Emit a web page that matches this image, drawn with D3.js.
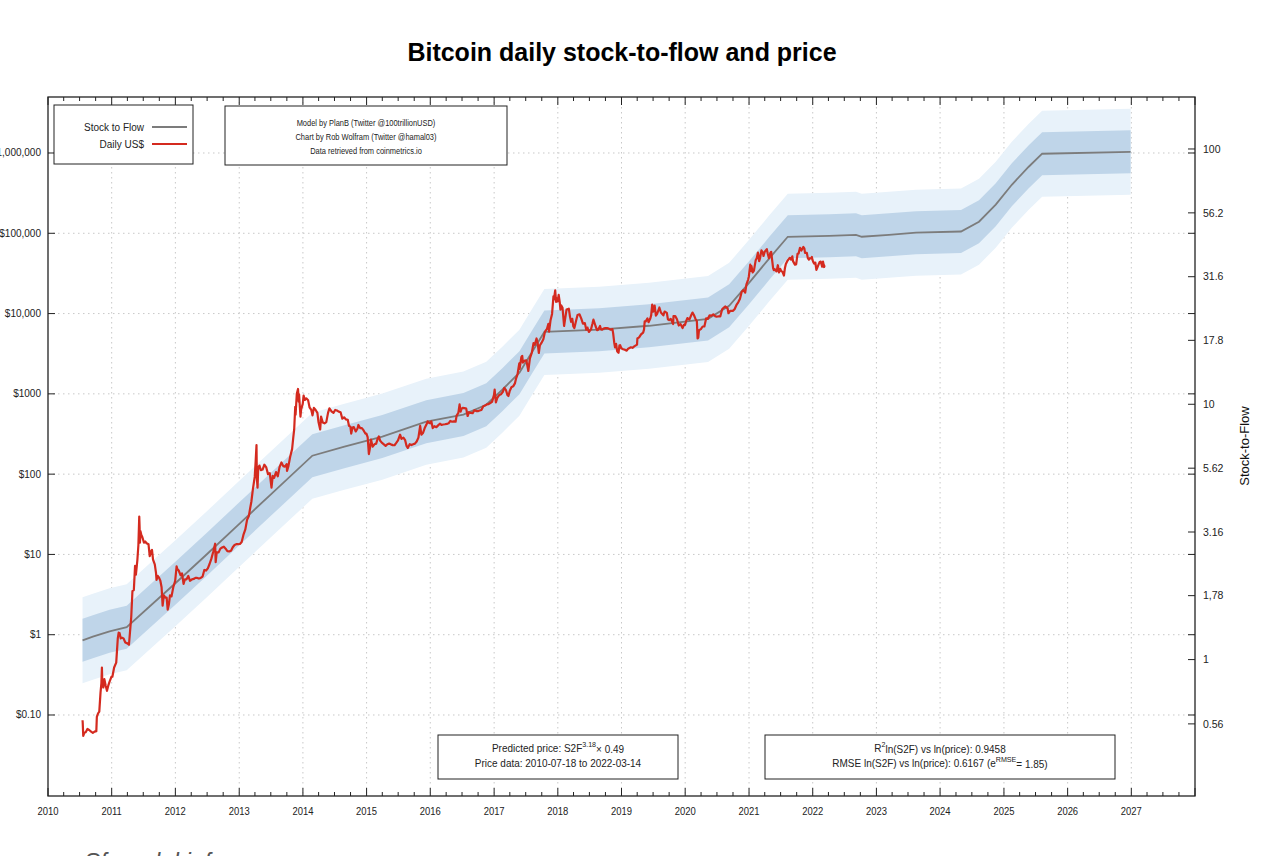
<!DOCTYPE html>
<html>
<head>
<meta charset="utf-8">
<script src="https://cdn.jsdelivr.net/npm/d3@7"></script>
<style>
  html, body { margin: 0; padding: 0; background: #fff; }
  svg { display: block; }
  text { font-family: 'Liberation Sans', Arial, sans-serif; }
</style>
</head>
<body>
<svg id="chart" width="1280" height="856"></svg>
<script>
// ---------------- DATA ----------------
const yearTicks = [2010,2011,2012,2013,2014,2015,2016,2017,2018,2019,2020,2021,2022,2023,2024,2025,2026,2027];
const priceTicks = [0.1, 1, 10, 100, 1000, 10000, 100000, 1000000];
const priceTickLabels = ["$0.10","$1","$10","$100","$1000","$10,000","$100,000","$1,000,000"];
const s2fTicks = [0.56, 1, 1.78, 3.16, 5.62, 10, 17.8, 31.6, 56.2, 100];
const s2fTickLabels = ["0.56","1","1,78","3.16","5.62","10","17.8","31.6","56.2","100"];

const modelMultiplier = 0.49;   // predicted price = S2F^3.18 x 0.49
const modelExponent = 3.18;
const rmse = 0.6167;

// Stock-to-flow model (right axis)
const s2fModel = [
  ["2010-07-18",1.19],["2010-09-15",1.23],["2010-12-20",1.29],["2011-03-28",1.34],
  ["2012-01-01",1.99],["2012-06-28",2.58],["2012-12-28",3.38],["2013-06-30",4.43],
  ["2014-02-24",6.29],["2014-08-27",6.82],["2015-04-01",7.47],["2015-12-09",8.55],
  ["2016-07-09",9.11],["2016-11-17",9.96],["2017-02-17",11.4],["2017-05-26",13.3],
  ["2017-08-08",16.1],["2017-10-16",19.2],["2018-08-26",19.6],["2019-06-08",20.3],
  ["2020-05-11",21.6],["2020-09-09",24.3],["2021-01-01",29.9],["2021-04-26",37.2],
  ["2021-08-11",45.3],["2022-04-06",45.7],["2022-09-06",46.1],["2022-10-09",45.3],
  ["2023-03-14",46.1],["2023-08-16",47.0],["2024-04-30",47.5],["2024-08-11",51.9],
  ["2024-11-15",60.5],["2025-02-15",72.4],["2025-05-23",85.2],["2025-08-08",95.8],
  ["2026-12-28",97.5]
];

// Daily price in US$
const dailyPrice = [
  ["2010-07-18",0.086],["2010-07-19",0.080],["2010-07-22",0.055],["2010-07-28",0.060],["2010-08-05",0.061],
  ["2010-08-15",0.067],["2010-08-25",0.065],["2010-09-05",0.062],["2010-09-15",0.060],["2010-09-25",0.062],
  ["2010-10-05",0.063],["2010-10-08",0.095],["2010-10-15",0.105],["2010-10-22",0.11],["2010-10-29",0.19],
  ["2010-11-03",0.25],["2010-11-06",0.39],["2010-11-08",0.26],["2010-11-14",0.22],["2010-11-20",0.28],
  ["2010-11-28",0.23],["2010-12-05",0.20],["2010-12-12",0.23],["2010-12-20",0.26],["2010-12-31",0.30],
  ["2011-01-05",0.30],["2011-01-15",0.39],["2011-01-27",0.45],["2011-02-05",0.90],["2011-02-10",1.06],
  ["2011-02-15",1.05],["2011-02-22",0.90],["2011-03-01",0.92],["2011-03-10",0.90],["2011-03-20",0.80],
  ["2011-04-01",0.78],["2011-04-10",0.75],["2011-04-17",1.15],["2011-04-23",1.65],["2011-04-30",3.5],
  ["2011-05-08",3.6],["2011-05-15",7.2],["2011-05-20",5.6],["2011-05-28",8.4],["2011-06-03",13],
  ["2011-06-08",29.6],["2011-06-10",22],["2011-06-12",14],["2011-06-15",19.5],["2011-06-20",17.5],
  ["2011-06-26",16.4],["2011-07-05",14],["2011-07-12",14.5],["2011-07-20",13.8],["2011-07-31",13.4],
  ["2011-08-07",9.5],["2011-08-15",11],["2011-08-20",11.4],["2011-08-26",8.6],["2011-09-05",7.5],
  ["2011-09-12",5.9],["2011-09-15",4.8],["2011-09-22",5.4],["2011-09-30",5.1],["2011-10-07",4.7],
  ["2011-10-14",3.9],["2011-10-20",2.3],["2011-10-27",3.1],["2011-11-05",2.9],["2011-11-12",2.9],
  ["2011-11-18",2.05],["2011-11-25",2.4],["2011-12-01",3.1],["2011-12-10",3.0],["2011-12-20",3.9],
  ["2011-12-31",4.7],
  ["2012-01-08",7.1],["2012-01-12",6.6],["2012-01-20",6.3],["2012-01-31",5.5],["2012-02-08",5.8],
  ["2012-02-17",4.3],["2012-02-25",4.9],["2012-03-05",4.9],["2012-03-15",5.4],["2012-03-25",4.7],
  ["2012-04-05",4.9],["2012-04-15",4.95],["2012-04-25",5.1],["2012-05-05",5.1],["2012-05-15",5.0],
  ["2012-05-25",5.1],["2012-06-05",5.3],["2012-06-15",6.4],["2012-06-25",6.3],["2012-07-05",6.7],
  ["2012-07-15",7.6],["2012-07-25",8.8],["2012-08-05",10.8],["2012-08-16",13.6],["2012-08-19",8.0],
  ["2012-08-25",10.6],["2012-09-05",10.6],["2012-09-15",11.8],["2012-09-25",12.2],["2012-10-05",12.5],
  ["2012-10-15",11.8],["2012-10-25",11.0],["2012-11-05",10.9],["2012-11-15",11.1],["2012-11-25",12.3],
  ["2012-12-05",13.1],["2012-12-15",13.4],["2012-12-25",13.4],
  ["2013-01-05",13.5],["2013-01-15",14.3],["2013-01-25",17.5],["2013-02-05",20.5],["2013-02-15",27],
  ["2013-02-25",30],["2013-03-05",38],["2013-03-12",46],["2013-03-20",64],["2013-03-31",93],
  ["2013-04-05",142],["2013-04-10",230],["2013-04-12",90],["2013-04-16",68],["2013-04-20",120],
  ["2013-04-27",128],["2013-05-05",112],["2013-05-15",114],["2013-05-25",131],["2013-06-05",121],
  ["2013-06-15",100],["2013-06-25",103],["2013-07-05",68],["2013-07-12",95],["2013-07-20",90],
  ["2013-07-31",106],["2013-08-10",94],["2013-08-20",122],["2013-08-31",140],["2013-09-10",126],
  ["2013-09-20",124],["2013-09-30",133],["2013-10-02",110],["2013-10-10",126],["2013-10-20",165],
  ["2013-10-31",205],["2013-11-07",290],["2013-11-12",360],["2013-11-18",690],["2013-11-20",550],
  ["2013-11-27",1000],["2013-12-04",1150],["2013-12-08",800],["2013-12-10",985],["2013-12-18",520],
  ["2013-12-22",640],["2013-12-31",750],
  ["2014-01-05",950],["2014-01-12",840],["2014-01-20",880],["2014-01-31",830],["2014-02-08",680],
  ["2014-02-18",630],["2014-02-25",540],["2014-03-05",670],["2014-03-15",630],["2014-03-25",580],
  ["2014-03-31",450],["2014-04-10",360],["2014-04-15",520],["2014-04-25",440],["2014-05-05",430],
  ["2014-05-15",445],["2014-05-25",580],["2014-06-02",660],["2014-06-15",600],["2014-06-25",580],
  ["2014-07-05",630],["2014-07-15",620],["2014-07-25",600],["2014-08-05",590],["2014-08-15",490],
  ["2014-08-25",510],["2014-09-05",480],["2014-09-15",475],["2014-09-22",400],["2014-09-30",390],
  ["2014-10-05",320],["2014-10-12",380],["2014-10-20",385],["2014-10-31",340],["2014-11-10",370],
  ["2014-11-15",410],["2014-11-25",375],["2014-12-05",375],["2014-12-15",350],["2014-12-25",320],
  ["2014-12-31",320],
  ["2015-01-07",290],["2015-01-14",178],["2015-01-20",210],["2015-01-26",270],["2015-02-05",220],
  ["2015-02-15",235],["2015-02-25",240],["2015-03-05",275],["2015-03-12",295],["2015-03-20",260],
  ["2015-03-31",245],["2015-04-10",235],["2015-04-20",225],["2015-04-30",236],["2015-05-10",240],
  ["2015-05-20",235],["2015-05-31",230],["2015-06-10",229],["2015-06-20",245],["2015-06-30",263],
  ["2015-07-12",310],["2015-07-20",275],["2015-07-31",285],["2015-08-10",265],["2015-08-18",225],
  ["2015-08-25",212],["2015-09-05",236],["2015-09-15",230],["2015-09-25",235],["2015-10-05",240],
  ["2015-10-15",255],["2015-10-25",285],["2015-11-04",400],["2015-11-11",310],["2015-11-20",325],
  ["2015-11-30",375],["2015-12-10",415],["2015-12-17",455],["2015-12-22",440],["2015-12-31",430],
  ["2016-01-07",455],["2016-01-15",375],["2016-01-25",395],["2016-02-05",385],["2016-02-15",405],
  ["2016-02-25",425],["2016-03-05",410],["2016-03-15",415],["2016-03-25",418],["2016-04-05",422],
  ["2016-04-15",430],["2016-04-25",460],["2016-05-05",450],["2016-05-15",455],["2016-05-25",450],
  ["2016-05-31",535],["2016-06-10",580],["2016-06-17",740],["2016-06-23",600],["2016-06-28",650],
  ["2016-07-05",670],["2016-07-15",665],["2016-07-25",655],["2016-08-02",530],["2016-08-10",590],
  ["2016-08-20",580],["2016-08-31",575],["2016-09-10",625],["2016-09-20",610],["2016-09-30",610],
  ["2016-10-10",620],["2016-10-20",630],["2016-10-31",700],["2016-11-10",715],["2016-11-20",740],
  ["2016-11-30",745],["2016-12-10",770],["2016-12-20",795],["2016-12-31",965],
  ["2017-01-04",1130],["2017-01-11",780],["2017-01-20",900],["2017-01-31",970],["2017-02-10",990],
  ["2017-02-20",1060],["2017-02-28",1190],["2017-03-10",1110],["2017-03-18",970],["2017-03-24",940],
  ["2017-03-31",1080],["2017-04-10",1210],["2017-04-20",1240],["2017-04-30",1350],["2017-05-07",1560],
  ["2017-05-15",1750],["2017-05-25",2400],["2017-05-27",2050],["2017-06-06",2860],["2017-06-11",2970],
  ["2017-06-15",2450],["2017-06-25",2590],["2017-07-05",2610],["2017-07-16",1930],["2017-07-25",2760],
  ["2017-08-05",3250],["2017-08-15",4300],["2017-08-22",4090],["2017-09-01",4900],["2017-09-08",4230],
  ["2017-09-14",3230],["2017-09-20",4000],["2017-09-30",4340],["2017-10-10",4780],["2017-10-20",6000],
  ["2017-10-31",6450],["2017-11-08",7450],["2017-11-12",5950],["2017-11-20",8200],["2017-11-29",9900],
  ["2017-12-07",16400],["2017-12-10",15000],["2017-12-17",19500],["2017-12-22",14000],["2017-12-28",15500],
  ["2017-12-31",14150],
  ["2018-01-06",17100],["2018-01-12",13900],["2018-01-16",11200],["2018-01-20",12700],["2018-01-28",11800],
  ["2018-02-06",7000],["2018-02-12",8600],["2018-02-20",11200],["2018-03-05",11500],["2018-03-12",9100],
  ["2018-03-18",7900],["2018-03-25",8600],["2018-03-31",6900],["2018-04-06",6600],["2018-04-15",8000],
  ["2018-04-24",9600],["2018-05-05",9800],["2018-05-15",8700],["2018-05-25",7500],["2018-06-05",7600],
  ["2018-06-13",6300],["2018-06-20",6700],["2018-06-28",5900],["2018-07-10",6350],["2018-07-18",7400],
  ["2018-07-24",8400],["2018-08-05",7000],["2018-08-14",6200],["2018-08-20",6300],["2018-08-31",7000],
  ["2018-09-05",6400],["2018-09-12",6300],["2018-09-20",6500],["2018-09-30",6600],["2018-10-10",6600],
  ["2018-10-20",6500],["2018-10-31",6300],["2018-11-10",6400],["2018-11-14",5700],["2018-11-20",4400],
  ["2018-11-25",3800],["2018-12-01",4200],["2018-12-07",3400],["2018-12-15",3250],["2018-12-20",4000],
  ["2018-12-24",4050],["2018-12-31",3700],
  ["2019-01-10",3600],["2019-01-20",3550],["2019-01-31",3450],["2019-02-08",3650],["2019-02-24",3800],
  ["2019-03-05",3750],["2019-03-15",3900],["2019-03-31",4100],["2019-04-02",4900],["2019-04-12",5050],
  ["2019-04-23",5500],["2019-05-05",5800],["2019-05-10",6300],["2019-05-14",8000],["2019-05-20",8000],
  ["2019-05-30",8700],["2019-06-05",7800],["2019-06-15",8700],["2019-06-20",9500],["2019-06-26",12900],
  ["2019-07-02",10600],["2019-07-10",12600],["2019-07-17",9400],["2019-07-24",9900],["2019-08-06",11900],
  ["2019-08-15",10300],["2019-08-29",9500],["2019-09-05",10600],["2019-09-18",10200],["2019-09-24",8500],
  ["2019-10-01",8300],["2019-10-10",8600],["2019-10-24",7400],["2019-10-26",9300],["2019-11-05",9300],
  ["2019-11-15",8500],["2019-11-25",7100],["2019-12-05",7400],["2019-12-17",6600],["2019-12-25",7250],
  ["2019-12-31",7200],
  ["2020-01-07",8100],["2020-01-14",8800],["2020-01-25",8400],["2020-02-05",9600],["2020-02-12",10300],
  ["2020-02-20",9600],["2020-02-28",8700],["2020-03-08",8000],["2020-03-12",4900],["2020-03-16",5000],
  ["2020-03-20",6200],["2020-03-31",6400],["2020-04-10",6900],["2020-04-20",6900],["2020-04-30",8700],
  ["2020-05-10",8600],["2020-05-20",9500],["2020-05-31",9450],["2020-06-10",9800],["2020-06-20",9300],
  ["2020-06-30",9140],["2020-07-10",9250],["2020-07-20",9200],["2020-07-31",11300],["2020-08-10",11900],
  ["2020-08-17",12250],["2020-08-31",11650],["2020-09-05",10100],["2020-09-15",10800],["2020-09-30",10800],
  ["2020-10-10",11300],["2020-10-21",12800],["2020-10-31",13800],["2020-11-10",15300],["2020-11-20",18700],
  ["2020-11-30",19600],["2020-12-10",18300],["2020-12-17",23100],["2020-12-27",26500],["2020-12-31",29000],
  ["2021-01-08",40800],["2021-01-12",34000],["2021-01-15",39000],["2021-01-22",32500],["2021-01-29",34300],
  ["2021-02-08",46000],["2021-02-14",48800],["2021-02-21",57500],["2021-02-28",45000],["2021-03-05",48700],
  ["2021-03-13",61200],["2021-03-20",58000],["2021-03-25",52300],["2021-04-01",59000],["2021-04-13",63500],
  ["2021-04-18",56000],["2021-04-25",49000],["2021-05-03",57000],["2021-05-08",58800],["2021-05-12",49000],
  ["2021-05-19",36700],["2021-05-23",34700],["2021-05-28",35700],["2021-06-08",33500],["2021-06-15",40000],
  ["2021-06-22",32500],["2021-06-29",36000],["2021-07-05",33800],["2021-07-12",33000],["2021-07-20",29800],
  ["2021-07-26",37300],["2021-07-31",41500],["2021-08-07",44600],["2021-08-14",47000],["2021-08-23",49500],
  ["2021-08-30",47000],["2021-09-06",51700],["2021-09-10",45000],["2021-09-21",40700],["2021-09-28",41000],
  ["2021-10-06",55400],["2021-10-12",56000],["2021-10-20",66000],["2021-10-28",61000],["2021-11-08",67600],
  ["2021-11-14",65000],["2021-11-18",56900],["2021-11-28",57200],["2021-12-04",49000],["2021-12-10",47000],
  ["2021-12-15",48900],["2021-12-22",48600],["2021-12-27",50700],["2021-12-31",46300],
  ["2022-01-05",43500],["2022-01-10",41800],["2022-01-16",43100],["2022-01-22",35000],["2022-01-28",37700],
  ["2022-02-05",41500],["2022-02-10",44000],["2022-02-16",44500],["2022-02-24",38300],["2022-03-01",44400],
  ["2022-03-07",38000],["2022-03-10",39400],["2022-03-14",39700]
];

const titleText = "Bitcoin daily stock-to-flow and price";
const legendLabels = ["Stock to Flow", "Daily US$"];
const creditLines = ["Model by PlanB (Twitter @100trillionUSD)", "Chart by Rob Wolfram (Twitter @hamal03)", "Data retrieved from coinmetrics.io"];

// ---------------- CHART ----------------
const svg = d3.select("#chart");
const L = 48, R = 1195, T = 97, B = 796;
const parse = d3.utcParse("%Y-%m-%d");

const x = d3.scaleUtc().domain([Date.UTC(2010,0,1), Date.UTC(2028,0,1)]).range([L, R]);
const yLo = Math.pow(10, -2.0089), yHi = Math.pow(10, 6.6975);
const y = d3.scaleLog().domain([yLo, yHi]).range([B, T]);
const toS2F = p => Math.pow(p / modelMultiplier, 1 / modelExponent);
const toPrice = s => modelMultiplier * Math.pow(s, modelExponent);
const ys = d3.scaleLog().domain([toS2F(yLo), toS2F(yHi)]).range([B, T]);

const model = s2fModel.map(d => ({date: parse(d[0]), s2f: d[1], price: toPrice(d[1])}));
const price = dailyPrice.map(d => ({date: parse(d[0]), v: d[1]}));

// grid
const gridColor = "#c8c8c8";
const g = svg.append("g");
g.selectAll(".vg").data(yearTicks.slice(1)).join("line")
  .attr("x1", d => x(Date.UTC(d,0,1))).attr("x2", d => x(Date.UTC(d,0,1)))
  .attr("y1", T).attr("y2", B)
  .attr("stroke", gridColor).attr("stroke-width", 1).attr("stroke-dasharray", "1.5,3.5");
g.selectAll(".hg").data(priceTicks).join("line")
  .attr("x1", L).attr("x2", R).attr("y1", d => y(d)).attr("y2", d => y(d))
  .attr("stroke", gridColor).attr("stroke-width", 1).attr("stroke-dasharray", "1.5,3.5");

// bands
const k1 = Math.exp(rmse), k2 = Math.exp(2 * rmse);
svg.append("path").datum(model)
  .attr("d", d3.area().x(d => x(d.date)).y0(d => y(d.price / k2)).y1(d => y(d.price * k2)))
  .attr("fill", "#e8f2fa");
svg.append("path").datum(model)
  .attr("d", d3.area().x(d => x(d.date)).y0(d => y(d.price / k1)).y1(d => y(d.price * k1)))
  .attr("fill", "#bfd5e9");

// model line (right axis)
svg.append("path").datum(model)
  .attr("d", d3.line().x(d => x(d.date)).y(d => ys(d.s2f)))
  .attr("fill", "none").attr("stroke", "#7c7c7c").attr("stroke-width", 1.8);

// price line
svg.append("path").datum(price)
  .attr("d", d3.line().x(d => x(d.date)).y(d => y(d.v)))
  .attr("fill", "none").attr("stroke", "#d42a1f").attr("stroke-width", 2.2).attr("stroke-linejoin", "round");

// frame
svg.append("rect").attr("x", L).attr("y", T).attr("width", R - L).attr("height", B - T)
  .attr("fill", "none").attr("stroke", "#222").attr("stroke-width", 1.3);

// x ticks (quarterly minor, yearly major) top & bottom
const quarters = d3.utcMonth.every(3).range(new Date(Date.UTC(2010,0,1)), new Date(Date.UTC(2028,0,2)));
const axG = svg.append("g").attr("stroke", "#222").attr("stroke-width", 1);
quarters.forEach(q => {
  const major = q.getUTCMonth() === 0;
  const len = major ? 8 : 4;
  const xx = x(q);
  axG.append("line").attr("x1", xx).attr("x2", xx).attr("y1", B).attr("y2", B - len);
  axG.append("line").attr("x1", xx).attr("x2", xx).attr("y1", T).attr("y2", T + len);
});
svg.append("g").selectAll("text").data(yearTicks).join("text")
  .attr("transform", d => `translate(${x(Date.UTC(d,0,1))},815) scale(0.9,1)`)
  .attr("text-anchor", "middle").attr("font-size", 10.5).attr("fill", "#222")
  .text(d => d);

// left axis
priceTicks.forEach((p, i) => {
  axG.append("line").attr("x1", L).attr("x2", L + 7).attr("y1", y(p)).attr("y2", y(p));
  axG.append("line").attr("x1", R).attr("x2", R - 7).attr("y1", y(p)).attr("y2", y(p));
});
svg.append("g").selectAll("text").data(priceTicks).join("text")
  .attr("x", 41).attr("y", d => y(d)).attr("dy", "0.35em")
  .attr("text-anchor", "end").attr("font-size", 10).attr("fill", "#222")
  .text((d, i) => priceTickLabels[i]);

// right axis (stock-to-flow)
s2fTicks.forEach(s => {
  axG.append("line").attr("x1", R).attr("x2", R - 7).attr("y1", ys(s)).attr("y2", ys(s));
});
svg.append("g").selectAll("text").data(s2fTicks).join("text")
  .attr("x", 1203).attr("y", d => ys(d)).attr("dy", "0.35em")
  .attr("text-anchor", "start").attr("font-size", 10.5).attr("fill", "#222")
  .text((d, i) => s2fTickLabels[i]);
svg.append("text").attr("transform", "translate(1249,446) rotate(-90)")
  .attr("text-anchor", "middle").attr("font-size", 13).attr("fill", "#111").text("Stock-to-Flow");

// title
svg.append("text").attr("x", 622).attr("y", 61).attr("text-anchor", "middle")
  .attr("font-size", 25).attr("font-weight", "bold").attr("fill", "#000").text(titleText);

// legend
svg.append("rect").attr("x", 54).attr("y", 105).attr("width", 139).attr("height", 59)
  .attr("fill", "#fff").attr("stroke", "#222").attr("stroke-width", 1);
const legColors = ["#7c7c7c", "#d42a1f"];
legendLabels.forEach((t, i) => {
  const yy = 127 + i * 17;
  svg.append("text").attr("x", 144).attr("y", yy).attr("dy", "0.35em").attr("text-anchor", "end")
    .attr("font-size", 10).attr("fill", "#222").text(t);
  svg.append("line").attr("x1", 152).attr("x2", 187).attr("y1", yy).attr("y2", yy)
    .attr("stroke", legColors[i]).attr("stroke-width", 2);
});

// credits box
svg.append("rect").attr("x", 225).attr("y", 106).attr("width", 282).attr("height", 59)
  .attr("fill", "#fff").attr("stroke", "#222").attr("stroke-width", 1);
creditLines.forEach((t, i) => {
  svg.append("text").attr("transform", `translate(366,${123 + i * 14}) scale(0.83,1)`).attr("dy", "0.35em")
    .attr("text-anchor", "middle").attr("font-size", 9).attr("fill", "#222").text(t);
});

// bottom boxes
function box(x0, x1, lines) {
  svg.append("rect").attr("x", x0).attr("y", 735).attr("width", x1 - x0).attr("height", 44)
    .attr("fill", "#fff").attr("stroke", "#222").attr("stroke-width", 1);
  lines.forEach((parts, i) => {
    const t = svg.append("text").attr("transform", `translate(${(x0 + x1) / 2},${748 + i * 15}) scale(0.95,1)`)
      .attr("dy", "0.35em")
      .attr("text-anchor", "middle").attr("font-size", 10.5).attr("fill", "#222");
    parts.forEach(p => {
      const ts = t.append("tspan").text(p.t);
      if (p.sup) ts.attr("font-size", 7.5).attr("dy", "-0.6em");
      if (p.after) ts.attr("dy", "0.6em");
    });
  });
}
box(438, 678, [
  [{t: "Predicted price: S2F"}, {t: "3.18", sup: true}, {t: "\u00d7 0.49", after: true}],
  [{t: "Price data: 2010-07-18 to 2022-03-14"}]
]);
box(765, 1115, [
  [{t: "R"}, {t: "2", sup: true}, {t: "ln(S2F) vs ln(price): 0.9458", after: true}],
  [{t: "RMSE ln(S2F) vs ln(price): 0.6167 (e"}, {t: "RMSE", sup: true}, {t: "= 1.85)", after: true}]
]);

// cut-off caption at the very bottom
svg.append("text").attr("x", 84).attr("y", 870).attr("font-size", 24).attr("font-style", "italic")
  .attr("fill", "#555").text("Sf model.info");
</script>
</body>
</html>
